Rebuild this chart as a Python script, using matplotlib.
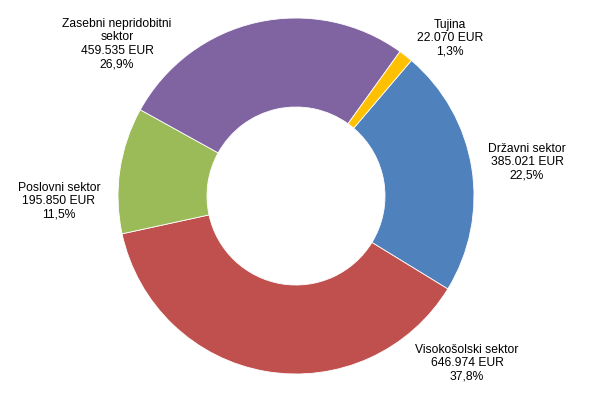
import matplotlib.pyplot as plt

#Chart data (EUR), clockwise order as in the original
sectors = ['Državni sektor', 'Visokošolski sektor', 'Poslovni sektor',
           'Zasebni nepridobitni\nsektor', 'Tujina']
amounts = [385021, 646974, 195850, 459535, 22070]
amount_labels = ['385.021 EUR', '646.974 EUR', '195.850 EUR', '459.535 EUR', '22.070 EUR']
shares = ['22,5%', '37,8%', '11,5%', '26,9%', '1,3%']
colors = ['#4F81BD', '#C0504D', '#9BBB59', '#8064A2', '#FFC000']

#Label centres in pixel coordinates (from top-left)
label_pos = [(527, 162), (467, 363), (59, 201), (117, 44), (450, 38)]

plt.rcParams['font.family'] = ['Liberation Sans', 'DejaVu Sans']

W, H = 591, 396
fig = plt.figure(figsize=(W / 100, H / 100), dpi=100)
ax = fig.add_axes([0, 0, 1, 1])
ax.set_xlim(0, W)
ax.set_ylim(0, H)
ax.set_aspect('equal')
ax.axis('off')

#Donut
ax.pie(amounts, colors=colors, startangle=49.6, counterclock=False,
       center=(296, H - 196), radius=178,
       wedgeprops=dict(width=89, edgecolor='white', linewidth=0.6))
ax.set_xlim(0, W)
ax.set_ylim(0, H)

#Data labels
for name, amt, sh, (x, y) in zip(sectors, amount_labels, shares, label_pos):
    ax.text(x, H - y, name + '\n' + amt + '\n' + sh, ha='center', va='center',
            fontsize=8.7, color='black', linespacing=1.15)

fig.savefig('out.png', dpi=100)
